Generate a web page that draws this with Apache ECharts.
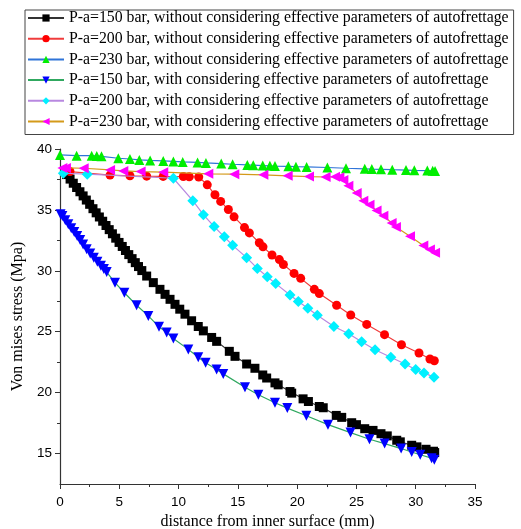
<!DOCTYPE html>
<html><head><meta charset="utf-8">
<script src="https://cdn.jsdelivr.net/npm/echarts@6/dist/echarts.min.js"></script>
<style>html,body{margin:0;padding:0;background:#fff}#c{width:521px;height:529px}</style>
</head><body><div id="c"></div>
<script>
const seriesNames = [
  'P-a=150 bar, without considering effective parameters of autofrettage',
  'P-a=200 bar, without considering effective parameters of autofrettage',
  'P-a=230 bar, without considering effective parameters of autofrettage',
  'P-a=150 bar, with considering effective parameters of autofrettage',
  'P-a=200 bar, with considering effective parameters of autofrettage',
  'P-a=230 bar, with considering effective parameters of autofrettage'
];
const xTicks = [0,5,10,15,20,25,30,35];
const yTicks = [15,20,25,30,35,40];
const yMinorTicks = [17.5,22.5,27.5,32.5,37.5];

const s150woX = [0.56,0.85,1.12,1.4,1.68,1.95,2.22,2.5,2.78,3.05,3.32,3.6,3.88,4.15,4.42,4.7,4.98,5.25,5.52,5.8,6.08,6.35,6.62,6.9,7.31,7.87,8.43,8.86,9.28,9.7,10.1,10.54,11.1,11.66,12.09,12.79,13.21,14.28,14.76,15.74,16.44,17.1,17.43,18.13,18.4,19.4,19.54,20.5,20.95,21.87,22.2,23.3,23.76,24.6,25.0,25.7,26.4,27.07,27.6,28.4,28.7,29.66,30.1,30.87,31.5,31.6];
const s150woY = [37.9,37.53,37.19,36.84,36.49,36.15,35.81,35.46,35.1,34.76,34.42,34.07,33.72,33.38,33.04,32.68,32.33,32.0,31.67,31.33,31.0,30.67,30.35,30.02,29.57,29.03,28.48,28.07,27.66,27.25,26.85,26.44,25.9,25.43,25.07,24.53,24.21,23.39,22.98,22.35,22.0,21.45,21.2,20.8,20.64,20.09,19.96,19.49,19.27,18.86,18.76,18.13,17.97,17.53,17.37,17.04,16.9,16.63,16.45,16.09,15.96,15.68,15.55,15.35,15.19,15.08];

const s200woX = [0.84,4.22,5.9,7.31,8.7,10.4,10.9,11.7,12.42,13.07,13.55,14.2,14.68,15.56,15.97,16.81,17.12,17.88,18.5,18.84,19.74,20.3,21.45,21.87,23.33,24.52,25.87,27.37,28.8,30.28,31.2,31.57];
const s200woY = [38.15,37.86,37.8,37.77,37.75,37.74,37.72,37.7,37.06,36.24,35.7,35.03,34.43,33.55,33.11,32.3,31.97,31.3,30.92,30.52,29.79,29.38,28.48,28.13,27.17,26.37,25.6,24.76,23.93,23.25,22.76,22.62];

const s230woX = [0,1.4,2.67,3.1,3.5,4.92,5.9,6.69,7.6,8.71,9.56,10.35,11.6,12.31,13.6,14.56,15.8,16.3,17.1,17.7,18.13,19.26,19.9,20.8,22.55,24.12,25.7,26.3,27.07,28.02,29.18,29.88,30.98,31.43,31.63];
const s230woY = [39.51,39.45,39.45,39.43,39.4,39.24,39.18,39.1,39.06,39.02,38.98,38.94,38.9,38.86,38.8,38.75,38.69,38.67,38.64,38.62,38.6,38.58,38.55,38.53,38.48,38.42,38.37,38.35,38.33,38.3,38.27,38.25,38.23,38.21,38.2];

const s150wX = [0.05,0.2,0.45,0.7,0.95,1.2,1.45,1.7,1.95,2.25,2.55,2.85,3.15,3.45,3.7,3.94,4.64,5.43,6.46,7.45,8.35,9.0,9.56,10.82,11.66,12.28,13.21,13.77,15.6,16.73,18.13,19.17,20.78,22.6,24.5,26.1,27.38,28.77,29.66,30.38,31.34,31.57];
const s150wY = [34.65,34.5,34.15,33.82,33.5,33.18,32.86,32.52,32.17,31.78,31.42,31.08,30.75,30.42,30.15,29.9,29.03,28.2,27.17,26.3,25.4,24.94,24.45,23.55,22.9,22.45,21.9,21.54,20.45,19.82,19.17,18.73,18.1,17.37,16.72,16.17,15.82,15.41,15.13,14.9,14.62,14.5];

const s200wX = [0.28,2.3,9.56,11.2,12.09,13.0,13.86,14.56,15.74,16.64,17.48,18.19,19.4,20.1,20.9,21.7,23.1,24.35,25.44,26.57,27.9,29.1,30.0,30.7,31.54];
const s200wY = [38.01,37.93,37.6,35.76,34.61,33.63,32.79,32.09,31.08,30.2,29.52,28.95,28.01,27.48,26.92,26.36,25.43,24.83,24.18,23.52,22.9,22.35,21.89,21.62,21.27];

const s230wX = [0.2,0.5,2.0,4.22,5.34,6.8,8.71,12.51,14.7,17.15,19.2,21.0,22.4,23.2,23.56,23.9,24.32,25.02,25.58,26.1,26.7,27.27,27.97,28.33,29.52,30.64,31.2,31.63];
const s230wY = [38.45,38.45,38.42,38.28,38.2,38.15,38.1,37.96,37.93,37.88,37.8,37.74,37.7,37.72,37.68,37.45,36.98,36.38,35.75,35.42,34.96,34.53,33.93,33.6,32.84,32.08,31.75,31.48];

const zip = (xs, ys) => xs.map((x, i) => [x, ys[i]]);

const styles = [
  {line:'#333333', mark:'#000000', symbol:'rect', size:9, rot:0},
  {line:'#f03c3c', mark:'#ff0000', symbol:'circle', size:9, rot:0},
  {line:'#2f74d8', mark:'#00ee00', symbol:'triangle', size:10, rot:0},
  {line:'#30a860', mark:'#0000ff', symbol:'triangle', size:10, rot:180},
  {line:'#b888e0', mark:'#00f0ff', symbol:'diamond', size:11, rot:0},
  {line:'#d49a1a', mark:'#ff00ff', symbol:'triangle', size:10, rot:90}
];
const datas = [zip(s150woX,s150woY), zip(s200woX,s200woY), zip(s230woX,s230woY), zip(s150wX,s150wY), zip(s200wX,s200wY), zip(s230wX,s230wY)];

const chart = echarts.init(document.getElementById('c'), null, {renderer:'canvas'});
chart.setOption({
  animation:false,
  backgroundColor:'#fff',
  legend:{
    orient:'vertical', left:25, top:10, width:487,
    padding:[0,5,5,2], itemGap:4.7, itemWidth:36, itemHeight:9,
    borderColor:'#444', borderWidth:1,
    textStyle:{fontFamily:'Liberation Serif', fontSize:15.8, color:'#000'},
    data:seriesNames
  },
  grid:{left:60, right:46, top:149, bottom:45, containLabel:false, outerBoundsMode:'none'},
  xAxis:{
    type:'value', min:0, max:35, interval:5,
    name:'distance from inner surface (mm)', nameLocation:'middle', nameGap:28,
    nameTextStyle:{fontFamily:'Liberation Serif', fontSize:16, color:'#000'},
    axisLine:{show:true, lineStyle:{color:'#333', width:1.2}},
    axisTick:{show:true, inside:false, length:5, lineStyle:{color:'#333'}},
    minorTick:{show:true, splitNumber:2, length:3, lineStyle:{color:'#333'}},
    axisLabel:{fontFamily:'Liberation Sans', fontSize:13.5, color:'#000', margin:11, customValues:xTicks},
    splitLine:{show:false}
  },
  yAxis:[{
    type:'value', min:12.5, max:40,
    name:'Von mises stress (Mpa)', nameLocation:'middle', nameGap:34,
    nameTextStyle:{fontFamily:'Liberation Serif', fontSize:16, color:'#000'},
    axisLine:{show:true, lineStyle:{color:'#333', width:1.2}},
    axisTick:{show:true, inside:false, length:5, lineStyle:{color:'#333'}, customValues:yTicks},
    axisLabel:{fontFamily:'Liberation Sans', fontSize:13.5, color:'#000', margin:8, customValues:yTicks},
    splitLine:{show:false}
  },{
    type:'value', min:12.5, max:40, position:'left',
    axisLine:{show:false},
    axisTick:{show:true, inside:false, length:3, lineStyle:{color:'#333'}, customValues:yMinorTicks},
    axisLabel:{show:false},
    splitLine:{show:false}
  }],
  series: seriesNames.map((n, i) => ({
    name:n, type:'line', data:datas[i],
    symbol:styles[i].symbol, symbolSize:styles[i].size, symbolRotate:styles[i].rot,
    lineStyle:{color:styles[i].line, width:1.2},
    itemStyle:{color:styles[i].mark},
    z: 2 + i
  }))
});
</script>
</body></html>
